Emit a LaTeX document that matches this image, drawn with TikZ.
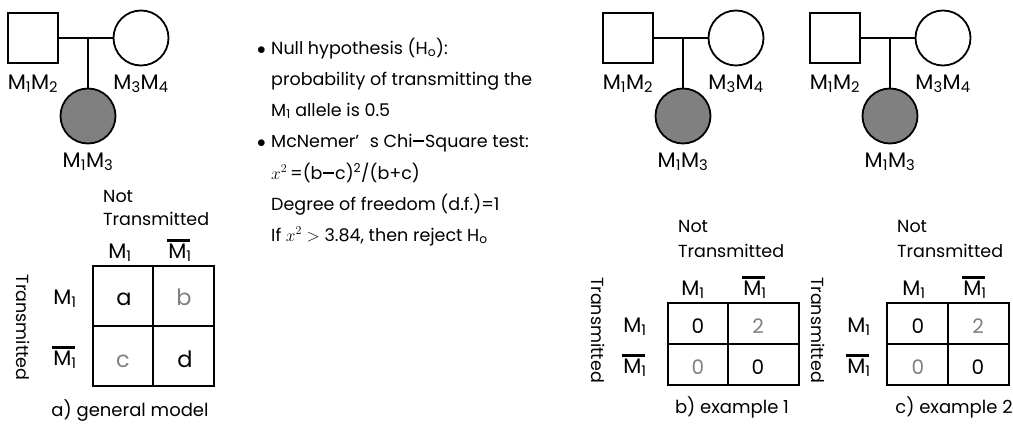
\documentclass[tikz,border=0pt]{standalone}
\usepackage{fontspec}
\setmainfont{Poppins}
\definecolor{affgray}{HTML}{808080}
\definecolor{valgray}{HTML}{808080}
% allele labels: M_1 and M_1 with a heavy bar
\newcommand\Mone{M\textsubscript{1}}
\newcommand\MoneBar{\setbox0\hbox{M}\setbox2\hbox{M\textsubscript{1}}%
  \rlap{\kern-1pt\raisebox{\dimexpr\ht0+1.8pt}{\rule{\dimexpr\wd2-0.5pt}{2.8pt}}}\box2}
% long minus and a heavy bullet for the text block
\newcommand\lminus{\kern0.05em\rule[0.3em]{0.62em}{0.075em}\kern0.05em}
\newcommand\bigdot{\makebox[14pt][l]{$\bullet$}}
\tikzset{
  kin/.style={line width=1.8pt},
  male/.style={draw, line width=1.8pt, rectangle, minimum size=50pt, inner sep=0},
  female/.style={draw, line width=1.8pt, circle, minimum size=55pt, inner sep=0},
  affected/.style={female, fill=affgray},
  plabel/.style={font=\fontsize{21}{24}\selectfont, inner sep=0, anchor=base},
  tlabel/.style={font=\fontsize{17.5}{20}\selectfont, inner sep=0, anchor=base},
  mlabel/.style={font=\fontsize{21}{24}\selectfont, inner sep=0, anchor=base},
  caption/.style={font=\fontsize{18}{20}\selectfont, inner sep=0, anchor=base},
  val/.style={font=\fontsize{20}{22}\selectfont, inner sep=0, anchor=base},
  grayval/.style={val, text=valgray},
  letter/.style={font=\fontsize{22.5}{24}\selectfont, inner sep=0, anchor=base},
  grayletter/.style={letter, text=valgray},
  txt/.style={font=\fontsize{17.5}{20}\selectfont, inner sep=0, anchor=base west},
  cell/.style 2 args={draw, line width=2pt, inner sep=0, minimum width=#1, minimum height=#2},
  pedigree/.pic={
    \node[male] (-f) at (0,0) {};
    \node[female] (-m) at (108,0) {};
    \coordinate (-j) at (55,0);
    \node[affected] (-c) at (55,78) {};
    \draw[kin] (-f) -- (-m);
    \draw[kin] (-j) -- (-c);
    \node[plabel] (-lf) at (0,51) {M\textsubscript{1}M\textsubscript{2}};
    \node[plabel] (-lm) at (108,51) {M\textsubscript{3}M\textsubscript{4}};
    \node[plabel] (-lc) at (55,129) {M\textsubscript{1}M\textsubscript{3}};
  }
}
\begin{document}
\begin{tikzpicture}[x=1pt,y=-1pt]
\useasboundingbox (0,0) rectangle (1013,434);

% ---- families ----
\pic (pa) at (33,38) {pedigree};
\pic (pb) at (628,38) {pedigree};
\pic (pc) at (835,38) {pedigree};

% ---- hypothesis and test ----
\node[txt] (t1) at (257,54) {\bigdot Null hypothesis (H\textsubscript{o}):};
\node[txt] (t2) at (271,85) {probability of transmitting the};
\node[txt] (t3) at (271,116) {M\textsubscript{1} allele is 0.5};
\node[txt] (t4) at (257,147) {\bigdot McNemer’\hspace{0.6em}s Chi\lminus Square test:};
\node[txt] (t5) at (271,179) {$x^2$\,=(b\lminus c)\textsuperscript{2}/(b+c)};
\node[txt] (t6) at (271,210) {Degree of freedom (d.f.)=1};
\node[txt] (t7) at (271,241) {If $x^2 >$ 3.84, then reject H\textsubscript{o}};

% ---- a) general model ----
\node[tlabel, anchor=base west] (na) at (103,202) {Not};
\node[tlabel, anchor=base west] (ta) at (103,225) {Transmitted};
\node[mlabel] (ca1) at (120,258) {\Mone};
\node[mlabel] (ca2) at (180,258) {\MoneBar};
\node[tlabel, rotate=-90, anchor=center] (ra) at (23,327.5) {Transmitted};
\node[mlabel] (ra1) at (65,304) {\Mone};
\node[mlabel] (ra2) at (65,365) {\MoneBar};
\node[cell={60pt}{60pt}] (a11) at (123,296) {};
\node[cell={61pt}{60pt}] (a12) at (183.5,296) {};
\node[cell={60pt}{60pt}] (a21) at (123,356) {};
\node[cell={61pt}{60pt}] (a22) at (183.5,356) {};
\node[letter] (va11) at (124,305) {a};
\node[grayletter] (va12) at (184,305) {b};
\node[grayletter] (va21) at (123,367) {c};
\node[letter] (va22) at (185,367) {d};
\node[caption] (capa) at (130,416) {a) general model};

% ---- b) example 1 ----
\node[tlabel, anchor=base west] (nb) at (678,232) {Not};
\node[tlabel, anchor=base west] (tb) at (678,257) {Transmitted};
\node[mlabel] (cb1) at (693,295) {\Mone};
\node[mlabel] (cb2) at (755,295) {\MoneBar};
\node[tlabel, rotate=-90, anchor=center] (rb) at (598,330) {Transmitted};
\node[mlabel] (rb1) at (635,332) {\Mone};
\node[mlabel] (rb2) at (635,373) {\MoneBar};
\node[cell={60pt}{41pt}] (b11) at (698,323.5) {};
\node[cell={71pt}{41pt}] (b12) at (763.5,323.5) {};
\node[cell={60pt}{41pt}] (b21) at (698,364.5) {};
\node[cell={71pt}{41pt}] (b22) at (763.5,364.5) {};
\node[val] (vb11) at (698,333) {0};
\node[grayval] (vb12) at (758,333) {2};
\node[grayval] (vb21) at (698,374) {0};
\node[val] (vb22) at (758,374) {0};
\node[caption] (capb) at (732,413) {b) example 1};

% ---- c) example 2 ----
\node[tlabel, anchor=base west] (nc) at (897,232) {Not};
\node[tlabel, anchor=base west] (tc) at (897,257) {Transmitted};
\node[mlabel] (cc1) at (914,295) {\Mone};
\node[mlabel] (cc2) at (975,295) {\MoneBar};
\node[tlabel, rotate=-90, anchor=center] (rc) at (818,330) {Transmitted};
\node[mlabel] (rc1) at (859,332) {\Mone};
\node[mlabel] (rc2) at (859,373) {\MoneBar};
\node[cell={61pt}{41pt}] (c11) at (917.5,323.5) {};
\node[cell={61pt}{41pt}] (c12) at (978.5,323.5) {};
\node[cell={61pt}{41pt}] (c21) at (917.5,364.5) {};
\node[cell={61pt}{41pt}] (c22) at (978.5,364.5) {};
\node[val] (vc11) at (918,333) {0};
\node[grayval] (vc12) at (978,333) {2};
\node[grayval] (vc21) at (918,374) {0};
\node[val] (vc22) at (978,374) {0};
\node[caption] (capc) at (954,413) {c) example 2};
\end{tikzpicture}
\end{document}
